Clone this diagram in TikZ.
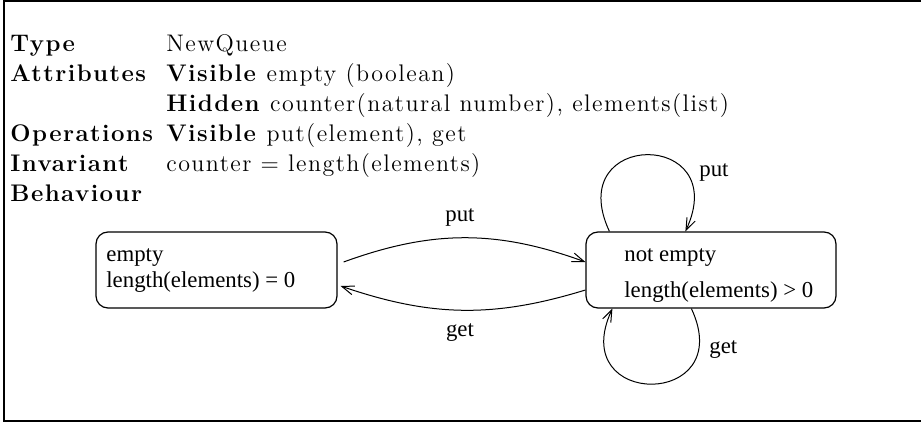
\documentclass[tikz,border=0pt]{standalone}
\usepackage{fontspec}
\usetikzlibrary{arrows.meta}
\newfontfamily\specfont[LetterSpace=6]{Latin Modern Roman}
\newfontfamily\statefont{Liberation Serif}

\begin{document}
\begin{tikzpicture}[x=0.5pt,y=0.5pt,
  spec/.style={anchor=base west,inner sep=0pt,font=\specfont\fontsize{12}{14}\selectfont},
  state/.style={draw,rounded corners=6pt,line width=0.6pt,minimum height=38pt,inner sep=0pt},
  txt/.style={anchor=base west,inner sep=0pt,font=\statefont\fontsize{11.4}{13}\selectfont},
  lbl/.style={inner sep=0pt,font=\statefont\fontsize{11.4}{13}\selectfont},
  arr/.style={-{Straight Barb[length=6pt,width=4.5pt]},line width=0.5pt}]
\useasboundingbox (0,0) rectangle (921,423);
\draw[line width=1pt] (921,422) -- (4,422) -- (4,2) -- (921,2);

\node[spec] (type) at (10,371) {\textbf{Type}};
\node[spec] (typeval) at (166,371) {NewQueue};
\node[spec] (attr) at (10,341) {\textbf{Attributes}};
\node[spec] (attrvis) at (166,341) {\textbf{Visible} empty (boolean)};
\node[spec] (attrhid) at (166,311) {\textbf{Hidden} counter(natural number), elements(list)};
\node[spec] (oper) at (10,281) {\textbf{Operations}};
\node[spec] (opervis) at (166,281) {\textbf{Visible} put(element), get};
\node[spec] (inv) at (10,251) {\textbf{Invariant}};
\node[spec] (invval) at (166,251) {counter $=$ length(elements)};
\node[spec] (behav) at (10,221) {\textbf{Behaviour}};

\node[state,minimum width=120.5pt] (empty) at (216.5,153) {};
\node[txt] (emptyname) at (106,161) {empty};
\node[txt] (emptyinv) at (106,135) {length(elements) = 0};

\node[state,minimum width=125pt] (notempty) at (711,153) {};
\node[txt] (fullname) at (624,161) {not empty};
\node[txt] (fullinv) at (624,125) {length(elements) > 0};

\draw[arr] ([xshift=3pt,yshift=4pt]empty.east) to[bend left=20] ([yshift=4pt]notempty.west);
\node[lbl] (putlbl) at (460,205) {put};
\draw[arr] ([yshift=-10pt]notempty.west) to[bend left=18] ([xshift=1.5pt,yshift=-8pt]empty.east);
\node[lbl] (getlbl) at (460,90) {get};

\draw[arr] ([xshift=12pt]notempty.north west) to[out=115,in=65,looseness=3.8] ([xshift=50pt]notempty.north west);
\node[lbl,anchor=west] (putself) at (699,250) {put};
\draw[arr] ([xshift=53pt]notempty.south west) to[out=-65,in=-115,looseness=3.6] ([xshift=13.5pt]notempty.south west);
\node[lbl,anchor=west] (getself) at (709,73) {get};
\end{tikzpicture}
\end{document}
